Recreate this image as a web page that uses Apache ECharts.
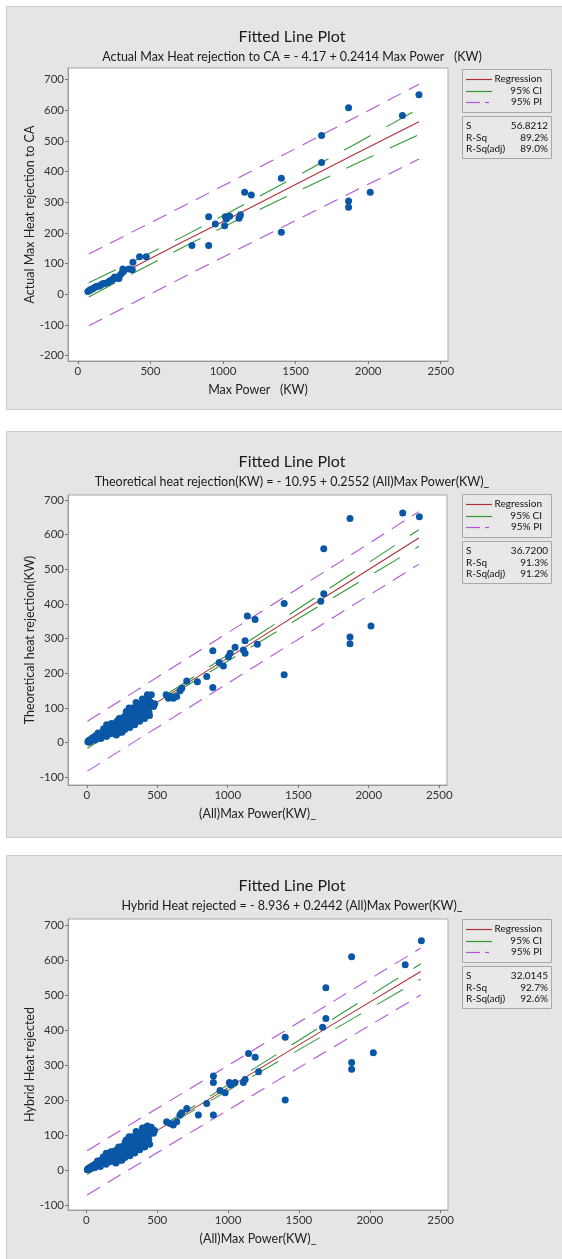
<!DOCTYPE html>
<html><head><meta charset="utf-8">
<script src="https://cdn.jsdelivr.net/npm/echarts@6/dist/echarts.min.js"></script>
<style>html,body{margin:0;padding:0;background:#fff}#c{width:562px;height:1259px}</style>
</head><body><div id="c"></div>
<script>
// ---------- DATA ----------
const xTicks = [0, 500, 1000, 1500, 2000, 2500];
const yTicks1 = [-200, -100, 0, 100, 200, 300, 400, 500, 600, 700];
const yTicks23 = [-100, 0, 100, 200, 300, 400, 500, 600, 700];

const titles = ["Fitted Line Plot", "Fitted Line Plot", "Fitted Line Plot"];
const subtitles = [
  "Actual Max Heat rejection to CA = - 4.17 + 0.2414 Max Power   (KW)",
  "Theoretical heat rejection(KW) = - 10.95 + 0.2552 (All)Max Power(KW)_",
  "Hybrid Heat rejected = - 8.936 + 0.2442 (All)Max Power(KW)_"
];
const yNames = ["Actual Max Heat rejection to CA", "Theoretical heat rejection(KW)", "Hybrid Heat rejected"];
const xNames = ["Max Power   (KW)", "(All)Max Power(KW)_", "(All)Max Power(KW)_"];
const legendNames = ["Regression", "95% CI", "95% PI"];
const statNames = ["S", "R-Sq", "R-Sq(adj)"];
const stats1 = ["56.8212", "89.2%", "89.0%"];
const stats2 = ["36.7200", "91.3%", "91.2%"];
const stats3 = ["32.0145", "92.7%", "92.6%"];

// Panel 1 points
const pts1 = [[69,9],[78,12],[85,14],[92,16],[103,18],[115,22],[126,25],[138,26],[149,27],[160,31],[172,34],[181,35],[191,36],[207,38],[216,42],[225,44],[233,46],[241,49],[253,56],[260,52],[269,55],[283,51],[294,64],[306,71],[310,82],[315,75],[352,82],[375,80],[379,104],[425,122],[471,122],[786,159],[901,159],[901,253],[947,229],[1011,223],[1016,253],[1023,245],[1046,254],[1110,248],[1120,259],[1149,333],[1195,324],[1402,378],[1402,202],[1679,518],[1679,430],[1865,608],[1865,304],[1865,284],[2014,333],[2236,583],[2350,651]];

// Panel 2 points
const pts2 = [[8,3],[14,6],[18,2],[24,8],[28,5],[33,11],[38,9],[42,14],[47,11],[52,16],[56,13],[61,19],[66,15],[71,18],[75,22],[80,17],[85,24],[90,20],[94,26],[99,23],[104,28],[108,21],[113,30],[118,26],[122,33],[127,24],[132,36],[136,30],[141,52],[145,34],[150,40],[154,28],[158,46],[163,37],[167,50],[171,33],[176,44],[180,27],[184,48],[189,42],[193,54],[197,36],[201,50],[206,31],[210,45],[214,38],[219,55],[223,29],[227,47],[232,60],[236,41],[240,52],[245,35],[249,63],[253,48],[257,57],[262,40],[266,68],[270,53],[275,79],[279,46],[283,71],[288,58],[292,65],[296,92],[300,50],[304,74],[309,61],[313,82],[317,69],[321,55],[326,88],[330,72],[334,64],[338,85],[343,77],[347,96],[351,68],[355,90],[360,80],[364,104],[368,73],[372,94],[377,86],[381,108],[385,79],[390,98],[394,89],[398,114],[402,82],[407,100],[411,120],[415,93],[420,106],[424,126],[428,97],[433,112],[437,131],[441,88],[446,104],[452,117],[458,138],[466,110],[474,104],[482,112],
[60,8],[80,28],[100,12],[120,40],[140,18],[160,25],[175,55],[195,28],[210,22],[215,62],[230,70],[235,30],[250,30],[255,72],[270,38],[280,90],[290,82],[300,100],[305,44],[325,100],[340,52],[350,116],[360,112],[375,62],[395,126],[410,70],[430,138],[445,78],
[563,138],[579,128],[596,133],[615,128],[638,133],[662,150],[674,157],[709,178],[785,176],[851,191],[894,265],[894,159],[939,231],[969,221],[1005,248],[1017,258],[1052,275],[1111,267],[1123,294],[1123,258],[1139,365],[1194,355],[1210,284],[1400,401],[1400,196],[1660,408],[1681,429],[1681,559],[1867,646],[1867,305],[1867,285],[2016,336],[2241,662],[2359,651]];

// Panel 3 points
const pts3 = [[6,1],[11,4],[16,2],[21,7],[26,4],[31,9],[36,7],[41,12],[46,9],[51,14],[55,11],[60,17],[65,13],[70,16],[74,21],[79,15],[84,23],[89,19],[93,26],[98,21],[103,27],[107,19],[112,29],[117,25],[121,32],[126,23],[131,35],[135,29],[140,48],[144,33],[149,39],[153,27],[157,45],[162,36],[166,49],[170,31],[175,43],[179,25],[183,47],[188,41],[192,53],[196,35],[200,48],[205,30],[209,44],[213,36],[218,54],[222,28],[226,46],[231,58],[235,40],[239,51],[244,34],[248,61],[252,47],[256,56],[261,39],[265,67],[269,52],[274,80],[278,45],[282,70],[287,57],[291,64],[295,86],[299,49],[303,73],[308,60],[312,81],[316,68],[320,54],[325,87],[329,71],[333,63],[337,84],[342,76],[346,95],[350,67],[354,89],[359,79],[363,102],[367,72],[371,93],[376,85],[380,106],[384,78],[389,97],[393,88],[397,112],[401,81],[406,99],[410,118],[414,92],[419,105],[423,123],[427,96],[432,111],[436,120],[440,87],[445,103],[451,116],[457,122],[465,110],[473,105],[481,113],
[58,7],[78,26],[98,10],[118,37],[138,17],[158,23],[173,52],[193,26],[208,20],[214,58],[228,66],[236,28],[250,28],[256,68],[271,36],[281,86],[292,78],[301,95],[306,41],[326,95],[341,49],[351,110],[361,106],[376,58],[396,120],[411,66],[431,126],[446,74],
[566,138],[590,133],[613,129],[637,138],[660,157],[672,164],[708,176],[790,157],[849,190],[896,269],[896,250],[896,157],[943,227],[979,221],[1009,250],[1019,243],[1049,250],[1108,250],[1120,259],[1144,333],[1191,322],[1215,281],[1403,379],[1403,200],[1667,408],[1690,433],[1690,521],[1872,609],[1872,307],[1872,288],[2025,335],[2250,586],[2364,655]];

// Fitted line and bands
const bandX1 = [75, 400, 720, 1100, 1500, 1900, 2350];
const reg1   = [14, 92, 170, 261, 358, 455, 563];
const ciUp1  = [37, 111, 187, 281, 383, 487, 605];
const ciLo1  = [-9, 73, 152, 242, 333, 422, 521];
const piUp1  = [131, 209, 286, 378, 475, 574, 685];
const piLo1  = [-103, -24, 54, 145, 240, 335, 441];

const bandX2 = [5, 350, 700, 1200, 1800, 2355];
const reg2   = [-10, 78, 168, 295, 448, 590];
const ciUp2  = [-4, 83, 174, 306, 466, 614];
const ciLo2  = [-16, 74, 162, 284, 431, 566];
const piUp2  = [62, 150, 240, 368, 522, 666];
const piLo2  = [-82, 6, 95, 222, 374, 514];

const bandX3 = [5, 350, 700, 1200, 1800, 2360];
const reg3   = [-8, 77, 162, 284, 431, 567];
const ciUp3  = [-2, 81, 168, 294, 447, 589];
const ciLo3  = [-13, 73, 157, 274, 414, 545];
const piUp3  = [55, 140, 225, 348, 496, 634];
const piLo3  = [-71, 13, 99, 220, 365, 500];

// ---------- CHART ----------
const FONT = "Lato, 'Open Sans', sans-serif";
const RED = '#b0303a', GREEN = '#2f9a35', PURPLE = '#b055d8', BLUE = '#0a57a6';
const zip = (xs, ys) => xs.map((x, i) => [x, ys[i]]);

const panels = [
  {bgY: 6, bgH: 403, titleY: 24, subY: 45, grid: {left: 68, top: 68, width: 380, height: 293},
   xr: [-68, 2550], yr: [-218, 738], yTicks: yTicks1, pts: pts1,
   bx: bandX1, reg: reg1, ciU: ciUp1, ciL: ciLo1, piU: piUp1, piL: piLo1, legY: 69, stats: stats1},
  {bgY: 431, bgH: 406, titleY: 449, subY: 470, grid: {left: 68, top: 495, width: 379, height: 290},
   xr: [-133, 2555], yr: [-122, 714], yTicks: yTicks23, pts: pts2,
   bx: bandX2, reg: reg2, ciU: ciUp2, ciL: ciLo2, piU: piUp2, piL: piLo2, legY: 494, stats: stats2},
  {bgY: 855, bgH: 404, titleY: 873, subY: 894, grid: {left: 68, top: 919, width: 380, height: 291},
   xr: [-130, 2552], yr: [-114, 717], yTicks: yTicks23, pts: pts3,
   bx: bandX3, reg: reg3, ciU: ciUp3, ciL: ciLo3, piU: piUp3, piL: piLo3, legY: 919, stats: stats3}
];

const option = {animation: false, backgroundColor: '#fff', title: [], grid: [], xAxis: [], yAxis: [], series: [], graphic: []};

panels.forEach((p, i) => {
  option.graphic.push({type: 'rect', z: -10, silent: true,
    shape: {x: 6.5, y: p.bgY + 0.5, width: 560, height: p.bgH},
    style: {fill: '#e5e5e5', stroke: '#cdcdcd', lineWidth: 1}});
  option.title.push({text: titles[i], left: 287, top: p.titleY, textAlign: 'center',
    textStyle: {fontFamily: FONT, fontSize: 16, fontWeight: 'normal', color: '#1a1a1a'}});
  option.title.push({text: subtitles[i], left: 287, top: p.subY, textAlign: 'center',
    textStyle: {fontFamily: FONT, fontSize: 12.5, fontWeight: 'normal', color: '#1a1a1a'}});
  option.grid.push(Object.assign({show: true, backgroundColor: '#fff', borderColor: '#a6a6a6', borderWidth: 1}, p.grid));
  option.xAxis.push({gridIndex: i, type: 'value', min: p.xr[0], max: p.xr[1],
    axisLine: {show: true, onZero: false, lineStyle: {color: '#9a9a9a'}},
    axisTick: {show: true, customValues: xTicks, length: 3, lineStyle: {color: '#777'}},
    axisLabel: {customValues: xTicks, color: '#333', fontSize: 11.5, fontFamily: FONT, margin: 4, formatter: v => String(v)},
    splitLine: {show: false},
    name: xNames[i], nameLocation: 'middle', nameGap: 22, nameMoveOverlap: false,
    nameTextStyle: {fontFamily: FONT, fontSize: 12.5, color: '#222'}});
  option.yAxis.push({gridIndex: i, type: 'value', min: p.yr[0], max: p.yr[1],
    axisLine: {show: true, onZero: false, lineStyle: {color: '#9a9a9a'}},
    axisTick: {show: true, customValues: p.yTicks, length: 3, lineStyle: {color: '#777'}},
    axisLabel: {customValues: p.yTicks, color: '#333', fontSize: 11.5, fontFamily: FONT, margin: 4, formatter: v => String(v)},
    splitLine: {show: false},
    name: yNames[i], nameLocation: 'middle', nameGap: 32, nameRotate: 90, nameMoveOverlap: false,
    nameTextStyle: {fontFamily: FONT, fontSize: 12.5, color: '#222'}});

  const ln = (data, color, type) => ({type: 'line', xAxisIndex: i, yAxisIndex: i, data, symbol: 'none',
    silent: true, z: 2, lineStyle: {color, width: 1.1, type}});
  option.series.push(ln(zip(p.bx, p.piU), PURPLE, [15, 9]));
  option.series.push(ln(zip(p.bx, p.piL), PURPLE, [15, 9]));
  option.series.push(ln(zip(p.bx, p.ciU), GREEN, [30, 18]));
  option.series.push(ln(zip(p.bx, p.ciL), GREEN, [30, 18]));
  option.series.push(ln(zip(p.bx, p.reg), RED, 'solid'));
  option.series.push({type: 'scatter', xAxisIndex: i, yAxisIndex: i, data: p.pts, symbol: 'circle',
    symbolSize: 7, z: 5, itemStyle: {color: BLUE, opacity: 1}});

  // legend box
  const lx = 462, ly = p.legY;
  option.graphic.push({type: 'rect', z: 10, silent: true, shape: {x: lx + 0.5, y: ly + 0.5, width: 89, height: 43},
    style: {fill: '#e8e8e8', stroke: '#a8a8a8', lineWidth: 1}});
  const rows = [10, 22, 33];
  const lcol = [RED, GREEN, PURPLE];
  rows.forEach((dy, k) => {
    if (k < 2) {
      option.graphic.push({type: 'line', z: 11, silent: true, shape: {x1: lx + 4, y1: ly + dy + 0.5, x2: lx + 30, y2: ly + dy + 0.5},
        style: {stroke: lcol[k], lineWidth: 1.2}});
    } else {
      option.graphic.push({type: 'line', z: 11, silent: true, shape: {x1: lx + 4, y1: ly + dy + 0.5, x2: lx + 18, y2: ly + dy + 0.5},
        style: {stroke: lcol[k], lineWidth: 1.2}});
      option.graphic.push({type: 'line', z: 11, silent: true, shape: {x1: lx + 23, y1: ly + dy + 0.5, x2: lx + 27, y2: ly + dy + 0.5},
        style: {stroke: lcol[k], lineWidth: 1.2}});
    }
    option.graphic.push({type: 'text', z: 11, silent: true, x: lx + 80, y: ly + dy,
      style: {text: legendNames[k], fill: '#111', font: "10px " + FONT, textAlign: 'right', textVerticalAlign: 'middle'}});
  });
  // stats box
  const sy = ly + 47;
  option.graphic.push({type: 'rect', z: 10, silent: true, shape: {x: lx + 0.5, y: sy + 0.5, width: 89, height: 42},
    style: {fill: '#e8e8e8', stroke: '#a8a8a8', lineWidth: 1}});
  [10, 21.5, 33].forEach((dy, k) => {
    option.graphic.push({type: 'text', z: 11, silent: true, x: lx + 4, y: sy + dy,
      style: {text: statNames[k], fill: '#111', font: "10px " + FONT, textAlign: 'left', textVerticalAlign: 'middle'}});
    option.graphic.push({type: 'text', z: 11, silent: true, x: lx + 86, y: sy + dy,
      style: {text: p.stats[k], fill: '#111', font: "10px " + FONT, textAlign: 'right', textVerticalAlign: 'middle'}});
  });
});

const chart = echarts.init(document.getElementById('c'), null, {renderer: 'canvas', width: 562, height: 1259});
chart.setOption(option);
</script></body></html>
